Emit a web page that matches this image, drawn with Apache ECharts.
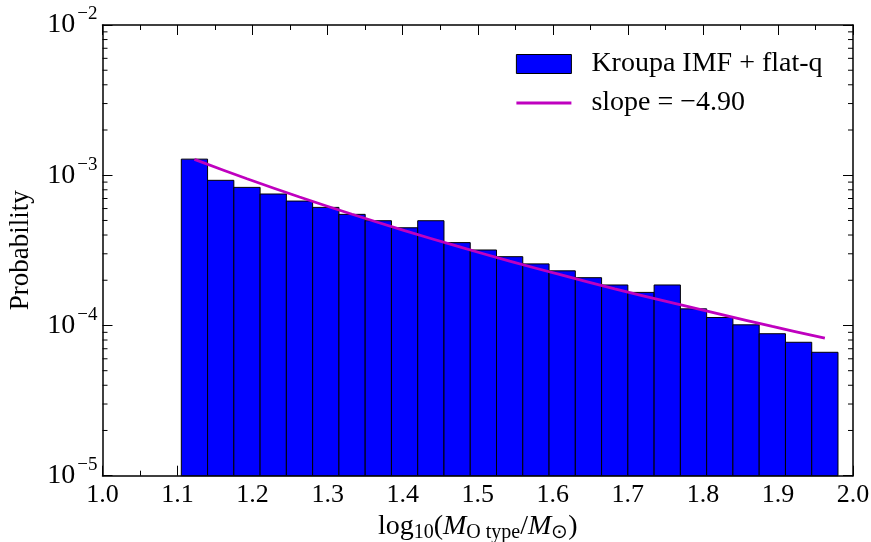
<!DOCTYPE html>
<html><head><meta charset="utf-8">
<script src="https://cdn.jsdelivr.net/npm/echarts@6/dist/echarts.min.js"></script>
<style>html,body{margin:0;padding:0;background:#fff}#c{width:871px;height:542px}</style>
</head><body><div id="c"></div>
<script>
// ---- data ----
const binEdges = [1.105,1.140,1.175,1.210,1.245,1.280,1.315,1.350,1.385,1.420,1.455,1.490,1.525,1.560,1.595,1.630,1.665,1.700,1.735,1.770,1.805,1.840,1.875,1.910,1.945,1.980];
const probability = [1.28e-3,9.25e-4,8.30e-4,7.50e-4,6.73e-4,6.11e-4,5.49e-4,4.98e-4,4.47e-4,4.98e-4,3.56e-4,3.18e-4,2.87e-4,2.57e-4,2.31e-4,2.08e-4,1.86e-4,1.66e-4,1.86e-4,1.29e-4,1.13e-4,1.01e-4,8.81e-5,7.73e-5,6.63e-5];
const fitX = [1.1225,1.1925,1.2625,1.3325,1.4025,1.4725,1.5425,1.6125,1.6825,1.7525,1.8225,1.8925,1.9625];
const fitY = [1.274e-3,9.47e-4,7.16e-4,5.50e-4,4.28e-4,3.37e-4,2.68e-4,2.16e-4,1.75e-4,1.44e-4,1.19e-4,9.85e-5,8.24e-5];
const histName = 'Kroupa IMF + flat-q';
const fitName = 'slope = \u22124.90';
const yName = 'Probability';
const xMin = 1.0, xMax = 2.0, xStep = 0.1;
const yMin = 1e-5, yMax = 1e-2;

const FONT = 'Liberation Serif';
const chart = echarts.init(document.getElementById('c'), null, {renderer:'canvas'});

const histData = probability.map((v,i)=>[binEdges[i], binEdges[i+1], v]);
const fitData = fitX.map((x,i)=>[x, fitY[i]]);

function yLabel(v){
  const e = Math.round(Math.log10(v));
  return '{b|10}{s|' + (e<0?'\u2212':'') + Math.abs(e) + '}';
}
const axisLineStyle = {color:'#000', width:1.5};
const xCommon = {type:'value', min:xMin, max:xMax, interval:xStep,
  axisLine:{show:true, onZero:false, lineStyle:axisLineStyle},
  axisTick:{show:true, inside:true, length:10, lineStyle:{color:'#000', width:1}},
  minorTick:{show:true, splitNumber:2, length:5, lineStyle:{color:'#000', width:1}},
  splitLine:{show:false}};
const yCommon = {type:'log', logBase:10, min:yMin, max:yMax, interval:1,
  axisLine:{show:true, onZero:false, lineStyle:axisLineStyle},
  axisTick:{show:true, inside:true, length:10, lineStyle:{color:'#000', width:1}},
  splitLine:{show:false}};

chart.setOption({
  animation:false,
  backgroundColor:'#fff',
  grid:{left:102.5, right:18, top:25, bottom:66.3, containLabel:false, outerBoundsMode:'none'},
  xAxis:[
    Object.assign({}, xCommon, {position:'bottom',
      axisLabel:{show:true, margin:6, fontFamily:FONT, fontSize:26, color:'#000', formatter:v=>v.toFixed(1)},
      name:'{n|log}{s|10}{n|(}{i|M}{s|O type}{n|/}{i|M}{s|\u2299}{n|)}', nameLocation:'middle', nameGap:29,
      nameTextStyle:{rich:{
        n:{fontFamily:FONT, fontSize:28, color:'#000'},
        i:{fontFamily:FONT, fontSize:28, fontStyle:'italic', color:'#000'},
        s:{fontFamily:FONT, fontSize:20, color:'#000', padding:[13,0,0,0]}
      }}}),
    Object.assign({}, xCommon, {position:'top', axisLabel:{show:false}})
  ],
  yAxis:[
    Object.assign({}, yCommon, {position:'left',
      axisLabel:{show:true, margin:5, formatter:yLabel, rich:{
        b:{fontFamily:FONT, fontSize:28, color:'#000'},
        s:{fontFamily:FONT, fontSize:19, color:'#000', padding:[0,0,21,2]}
      }},
      name:yName, nameLocation:'middle', nameGap:68, nameRotate:90,
      nameTextStyle:{fontFamily:FONT, fontSize:27, color:'#000'}}),
    Object.assign({}, yCommon, {position:'right', axisLabel:{show:false}})
  ],
  legend:{orient:'vertical', left:515, top:50, padding:0, itemWidth:55, itemHeight:19, itemGap:11,
    textStyle:{fontFamily:FONT, fontSize:28, color:'#000', padding:[0,0,0,15]},
    data:[
      {name:histName, icon:'rect', itemStyle:{color:'#0000ff', borderColor:'#000', borderWidth:1}},
      {name:fitName, itemStyle:{opacity:0}, lineStyle:{color:'#bf00bf', width:2.8}}
    ]},
  series:[
    {name:histName, type:'custom', xAxisIndex:0, yAxisIndex:0, data:histData,
      encode:{x:[0,1], y:2},
      itemStyle:{color:'#0000ff'},
      renderItem:function(params, api){
        const p0 = api.coord([api.value(0), api.value(2)]);
        const p1 = api.coord([api.value(1), yMin]);
        return {type:'rect', shape:{x:p0[0], y:p0[1], width:p1[0]-p0[0], height:p1[1]-p0[1]},
          style:{fill:'#0000ff', stroke:'#000', lineWidth:1}};
      }, z:2},
    {name:fitName, type:'line', data:fitData, symbol:'none', showSymbol:false, smooth:0.3,
      lineStyle:{color:'#bf00bf', width:2.8}, itemStyle:{color:'#bf00bf'}, z:3}
  ]
});

// minor ticks on the log axes (2..9 x 10^k), placed via the axis scale
const minorTicks = [];
const xl = chart.convertToPixel({xAxisIndex:0}, xMin);
const xr = chart.convertToPixel({xAxisIndex:0}, xMax);
for (let k=-5; k<-2; k++) {
  for (let m=2; m<=9; m++) {
    const v = m*Math.pow(10,k);
    const y = chart.convertToPixel({yAxisIndex:0}, v);
    minorTicks.push({type:'line', shape:{x1:xl, y1:y, x2:xl+5, y2:y}, style:{stroke:'#000', lineWidth:1}, z:10});
    minorTicks.push({type:'line', shape:{x1:xr-5, y1:y, x2:xr, y2:y}, style:{stroke:'#000', lineWidth:1}, z:10});
  }
}
chart.setOption({graphic:minorTicks});
</script></body></html>
